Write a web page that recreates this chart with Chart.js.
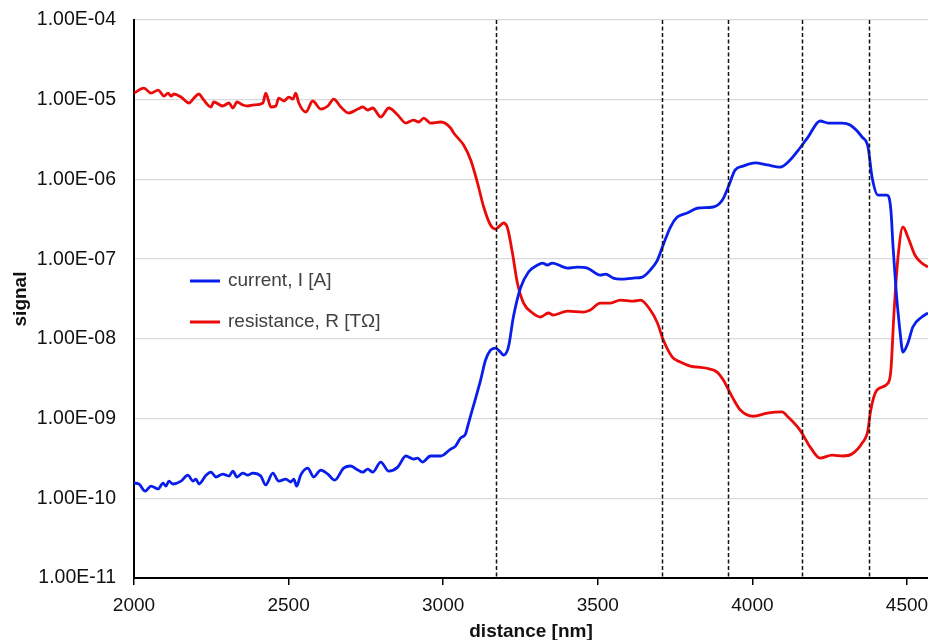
<!DOCTYPE html>
<html><head><meta charset="utf-8">
<script src="https://cdn.jsdelivr.net/npm/chart.js@4/dist/chart.umd.min.js"></script>
<style>html,body{margin:0;padding:0;background:#fff;overflow:hidden}</style>
</head><body>
<canvas id="c" width="928" height="640" style="display:block;width:928px;height:640px"></canvas>
<script>
const currentX = [2000,2016,2036,2055,2078,2094,2103,2113,2126,2152,2174,2191,2200,2210,2233,2249,2265,2287,2307,2320,2333,2352,2368,2384,2410,2426,2449,2468,2491,2507,2517,2526,2539,2562,2581,2604,2627,2649,2678,2701,2724,2740,2756,2772,2798,2824,2853,2879,2904,2917,2933,2959,2992,3024,3040,3056,3072,3082,3105,3121,3137,3153,3169,3185,3195,3211,3227,3250,3276,3305,3321,3337,3353,3402,3434,3466,3508,3525,3550,3573,3615,3644,3670,3693,3709,3735,3757,3789,3825,3873,3903,3922,3944,3970,4009,4048,4090,4122,4154,4180,4219,4245,4290,4316,4355,4374,4387,4406,4435,4448,4455,4464,4477,4487,4503,4519,4548,4568];
const currentY = [1.55e-10,1.51e-10,1.23e-10,1.42e-10,1.31e-10,1.55e-10,1.42e-10,1.64e-10,1.51e-10,1.64e-10,1.95e-10,1.64e-10,1.74e-10,1.51e-10,1.95e-10,2.13e-10,1.85e-10,2.01e-10,1.90e-10,2.19e-10,1.85e-10,2.07e-10,1.95e-10,2.07e-10,1.90e-10,1.47e-10,2.07e-10,1.64e-10,1.74e-10,1.60e-10,1.74e-10,1.42e-10,1.95e-10,2.39e-10,1.85e-10,2.26e-10,2.01e-10,1.69e-10,2.39e-10,2.54e-10,2.26e-10,2.13e-10,2.32e-10,2.13e-10,2.85e-10,2.19e-10,2.46e-10,3.39e-10,3.10e-10,3.19e-10,2.85e-10,3.39e-10,3.39e-10,4.14e-10,4.52e-10,5.69e-10,6.38e-10,8.79e-10,1.81e-9,3.04e-9,5.42e-9,7.23e-9,7.67e-9,6.83e-9,6.27e-9,7.89e-9,1.88e-8,4.34e-8,6.89e-8,8.43e-8,8.93e-8,8.43e-8,8.93e-8,7.73e-8,7.96e-8,7.73e-8,6.32e-8,6.50e-8,5.79e-8,5.62e-8,5.79e-8,5.96e-8,7.30e-8,9.75e-8,1.42e-7,2.53e-7,3.37e-7,3.79e-7,4.38e-7,4.51e-7,5.52e-7,8.04e-7,1.31e-6,1.47e-6,1.61e-6,1.52e-6,1.43e-6,1.75e-6,2.48e-6,3.40e-6,5.41e-6,5.10e-6,5.10e-6,4.82e-6,3.40e-6,2.55e-6,1.07e-6,6.37e-7,6.37e-7,4.13e-7,1.42e-7,4.47e-8,1.29e-8,6.83e-9,8.86e-9,1.41e-8,1.88e-8,2.11e-8];
const resistanceX = [2000,2032,2055,2078,2097,2110,2120,2129,2152,2178,2194,2210,2223,2249,2258,2287,2307,2320,2333,2352,2368,2388,2417,2426,2443,2459,2468,2485,2501,2514,2523,2533,2556,2578,2604,2627,2646,2669,2694,2724,2740,2756,2772,2798,2824,2853,2879,2904,2921,2937,2959,2992,3024,3034,3066,3089,3111,3131,3153,3169,3179,3195,3208,3224,3240,3260,3289,3315,3340,3356,3402,3454,3476,3508,3541,3573,3615,3638,3670,3693,3712,3741,3767,3799,3848,3886,3906,3935,3961,4003,4048,4096,4116,4154,4187,4219,4258,4293,4322,4355,4374,4381,4403,4439,4448,4458,4471,4487,4503,4526,4548,4568];
const resistanceY = [1.21e-5,1.40e-5,1.21e-5,1.32e-5,1.11e-5,1.21e-5,1.11e-5,1.18e-5,1.08e-5,9.09e-6,1.05e-5,1.18e-5,1.02e-5,8.10e-6,9.36e-6,8.34e-6,9.09e-6,7.87e-6,9.36e-6,8.59e-6,8.34e-6,8.59e-6,9.09e-6,1.21e-5,8.10e-6,8.34e-6,1.05e-5,9.64e-6,1.08e-5,1.02e-5,1.21e-5,9.09e-6,7.01e-6,9.64e-6,7.64e-6,8.34e-6,1.02e-5,8.10e-6,6.81e-6,7.64e-6,8.10e-6,7.43e-6,7.87e-6,6.07e-6,7.87e-6,6.43e-6,5.10e-6,5.56e-6,5.25e-6,5.89e-6,5.10e-6,5.25e-6,4.42e-6,3.82e-6,2.70e-6,1.75e-6,9.02e-7,4.51e-7,2.68e-7,2.39e-7,2.53e-7,2.84e-7,2.46e-7,1.19e-7,5.01e-8,2.81e-8,2.11e-8,1.88e-8,2.11e-8,1.99e-8,2.23e-8,2.17e-8,2.30e-8,2.81e-8,2.81e-8,3.07e-8,2.98e-8,3.07e-8,2.30e-8,1.58e-8,9.66e-9,5.91e-9,5.12e-9,4.56e-9,4.31e-9,3.83e-9,3.04e-9,1.86e-9,1.28e-9,1.07e-9,1.17e-9,1.21e-9,1.04e-9,7.17e-10,4.39e-10,3.19e-10,3.48e-10,3.39e-10,3.59e-10,4.93e-10,7.17e-10,1.17e-9,2.28e-9,2.79e-9,4.06e-9,2.11e-8,1.06e-7,2.53e-7,1.89e-7,1.12e-7,8.93e-8,7.96e-8];
const xTicks = [2000,2500,3000,3500,4000,4500];
const yTicks = [1e-11,1e-10,1e-9,1e-8,1e-7,1e-6,1e-5,1e-4];
const boundaries = [3172,3707,3920,4161,4377];
const seriesLabels = ['current, I [A]','resistance, R [TΩ]'];
const seriesColors = ['rgb(10,30,235)','rgb(235,10,10)'];

const FONT = 'Liberation Sans, Arial, sans-serif';
function fmtExp(v){
  const e = Math.round(Math.log10(v));
  const m = v/Math.pow(10,e);
  return m.toFixed(2)+'E'+(e<0?'-':'+')+String(Math.abs(e)).padStart(2,'0');
}

const overlay = {
  id:'overlay',
  afterDatasetsDraw(chart){
    const {ctx, chartArea:a, scales:{x}} = chart;
    ctx.save();
    ctx.strokeStyle='#111'; ctx.lineWidth=1.5; ctx.setLineDash([4,2.5]);
    boundaries.forEach(b=>{
      const px = Math.round(x.getPixelForValue(b))+0.5;
      ctx.beginPath(); ctx.moveTo(px,a.top); ctx.lineTo(px,a.bottom); ctx.stroke();
    });
    ctx.setLineDash([]);
    const lx = a.left+56, ly0 = 281, gap = 41;
    ctx.font = '19px '+FONT; ctx.textBaseline='middle'; ctx.fillStyle='#404040';
    seriesLabels.forEach((t,i)=>{
      const y = ly0+i*gap;
      ctx.strokeStyle=seriesColors[i]; ctx.lineWidth=3;
      ctx.beginPath(); ctx.moveTo(lx,y); ctx.lineTo(lx+30,y); ctx.stroke();
      ctx.fillText(t, lx+38, y);
    });
    ctx.restore();
  }
};

new Chart(document.getElementById('c'), {
  type:'line',
  data:{
    datasets:[
      {label:seriesLabels[0], data:currentX.map((v,i)=>({x:v,y:currentY[i]})), borderColor:seriesColors[0], borderWidth:2.8, pointRadius:0, cubicInterpolationMode:'monotone', fill:false},
      {label:seriesLabels[1], data:resistanceX.map((v,i)=>({x:v,y:resistanceY[i]})), borderColor:seriesColors[1], borderWidth:2.8, pointRadius:0, cubicInterpolationMode:'monotone', fill:false}
    ]
  },
  options:{
    responsive:false, animation:false, devicePixelRatio:1,
    layout:{padding:{top:20,right:0,left:0,bottom:0}},
    plugins:{legend:{display:false}, tooltip:{enabled:false}},
    scales:{
      x:{
        type:'linear', min:2000, max:4568,
        afterBuildTicks:s=>{s.ticks = xTicks.map(v=>({value:v}));},
        afterFit:s=>{s.height=62; s.paddingLeft=0; s.paddingRight=0;},
        ticks:{font:{family:FONT,size:19}, color:'#111', padding:9, maxRotation:0, autoSkip:false, callback:v=>String(v)},
        grid:{display:true, drawOnChartArea:false, drawTicks:true, tickLength:7, color:'#000', lineWidth:1.5},
        border:{display:true, color:'#000', width:2},
        title:{display:true, text:'distance [nm]', font:{family:FONT,size:19,weight:'bold'}, color:'#111', padding:{top:0,bottom:-3}}
      },
      y:{
        type:'logarithmic', min:1e-11, max:1e-4,
        afterBuildTicks:s=>{s.ticks = yTicks.map(v=>({value:v}));},
        afterFit:s=>{s.width=134; s.paddingTop=0; s.paddingBottom=0;},
        ticks:{font:{family:FONT,size:19.5}, color:'#111', padding:18, callback:v=>fmtExp(v), autoSkip:false},
        grid:{color:'#d9d9d9', lineWidth:1.3, drawTicks:false},
        border:{display:true, color:'#000', width:2},
        title:{display:true, text:'signal', font:{family:FONT,size:19,weight:'bold'}, color:'#111', padding:{top:9,bottom:0}}
      }
    }
  },
  plugins:[overlay]
});
</script>
</body></html>
